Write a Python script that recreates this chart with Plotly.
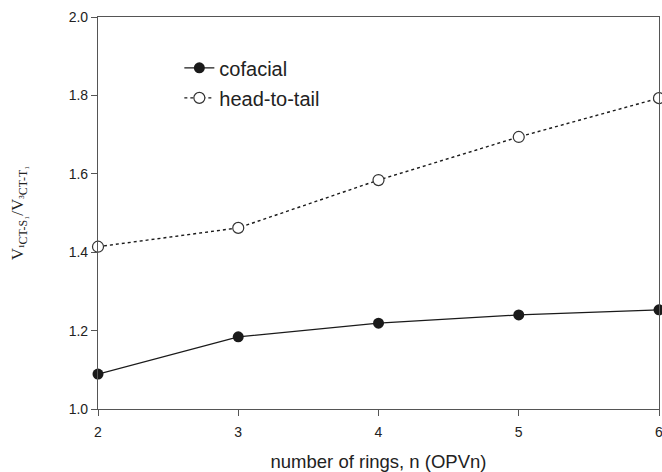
import plotly.graph_objects as go

n_rings = [2, 3, 4, 5, 6]
cofacial = [1.089, 1.184, 1.219, 1.240, 1.253]
head_to_tail = [1.414, 1.462, 1.584, 1.694, 1.793]
y_ticks = [1.0, 1.2, 1.4, 1.6, 1.8, 2.0]
x_ticks = [2, 3, 4, 5, 6]

line_col = "#1a1a1a"
axis_col = "#555555"

fig = go.Figure()
fig.add_trace(go.Scatter(
    x=n_rings, y=cofacial, name="cofacial", mode="lines+markers",
    legendgroup="a",
    line=dict(color=line_col, width=1.2),
    marker=dict(symbol="circle", size=11, color=line_col),
    cliponaxis=False,
))
fig.add_trace(go.Scatter(
    x=n_rings, y=head_to_tail, name="head-to-tail", mode="lines+markers",
    legendgroup="b",
    line=dict(color=line_col, width=1.4, dash="dot"),
    marker=dict(symbol="circle", size=11, color="white", line=dict(width=1.2, color="#333333")),
    cliponaxis=False,
))

fig.update_layout(
    width=662, height=472,
    margin=dict(l=98, r=3, t=17, b=63, autoexpand=False),
    paper_bgcolor="white", plot_bgcolor="white",
    font=dict(family="Liberation Sans, Arial, sans-serif", color="#222222", size=14),
    showlegend=True,
    legend=dict(x=0.145, y=0.92, xanchor="left", yanchor="top",
                bgcolor="rgba(0,0,0,0)", font=dict(size=20),
                tracegroupgap=1, itemwidth=30),
    xaxis=dict(
        range=[2, 6], tickvals=x_ticks, ticktext=[str(v) for v in x_ticks],
        ticklabeloverflow="allow", automargin=False, ticklabelstandoff=4,
        showgrid=False, zeroline=False, showline=True, linecolor=axis_col, linewidth=1.2,
        mirror=True, ticks="outside", ticklen=6, tickcolor=axis_col, tickwidth=1,
        title=dict(text="number of rings, n (OPVn)", font=dict(size=18.5), standoff=22),
    ),
    yaxis=dict(
        range=[1.0, 2.0], tickvals=y_ticks, ticktext=[f"{v:.1f}" for v in y_ticks],
        automargin=False,
        showgrid=False, zeroline=False, showline=True, linecolor=axis_col, linewidth=1.2,
        mirror=True, ticks="outside", ticklen=6, tickcolor=axis_col, tickwidth=1,
        title=dict(text="V<sub>¹CT-S₁</sub>/V<sub>³CT-T₁</sub>",
                   font=dict(family="Liberation Serif, Times New Roman, serif", size=17),
                   standoff=40),
    ),
)

fig.write_html("out.html", config={"displayModeBar": False},
               post_script="document.body.style.margin='0';document.body.style.overflow='hidden';")
